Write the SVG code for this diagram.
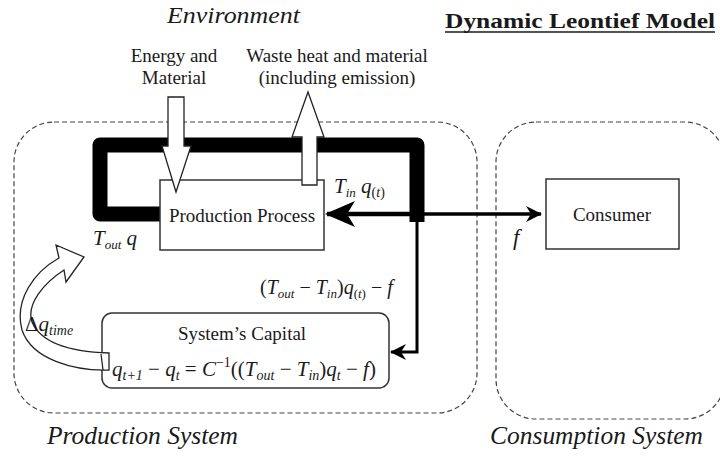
<svg xmlns="http://www.w3.org/2000/svg" width="720" height="457" viewBox="0 0 720 457">
<style>
.t{font-family:'Liberation Serif','DejaVu Serif',serif;fill:#1a1a1a}
.i{font-style:italic}
.m{font-family:'Liberation Serif','DejaVu Serif',serif;font-style:italic;fill:#1a1a1a}
.dash{fill:none;stroke:#444;stroke-width:1.2;stroke-dasharray:5 3}
.box{fill:#fff;stroke:#333;stroke-width:1.5}
.blk{fill:#fff;stroke:#222;stroke-width:1.3}
</style>
<defs>
<marker id="ah" viewBox="0 0 30 26" refX="28" refY="13" markerWidth="30" markerHeight="26" markerUnits="userSpaceOnUse" orient="auto">
<path d="M0,0 L30,13 L0,26 L8,13 Z" fill="#000"/>
</marker>
<marker id="ahs" viewBox="0 0 16 16" refX="15" refY="8" markerWidth="16" markerHeight="16" markerUnits="userSpaceOnUse" orient="auto">
<path d="M0,0 L16,8 L0,16 L5,8 Z" fill="#000"/>
</marker>
</defs>
<rect width="720" height="457" fill="#fff"/>

<g id="production-system">
<rect class="dash" x="14" y="122" width="463" height="291" rx="40" ry="40"/>
<text class="t i" x="47" y="444" font-size="25" textLength="191" lengthAdjust="spacingAndGlyphs">Production System</text>
</g>
<g id="consumption-system">
<rect class="dash" x="496" y="122" width="229" height="297" rx="40" ry="40"/>
<text class="t i" x="490" y="444" font-size="25" textLength="213" lengthAdjust="spacingAndGlyphs">Consumption System</text>
</g>

<text class="t i" x="167" y="23" font-size="24" textLength="133" lengthAdjust="spacingAndGlyphs">Environment</text>
<text class="t" x="445" y="28" font-size="20" font-weight="bold" textLength="270" lengthAdjust="spacingAndGlyphs">Dynamic Leontief Model</text>
<line x1="445" y1="32" x2="715" y2="32" stroke="#1a1a1a" stroke-width="1.5"/>

<g id="connectors">
<path d="M160,214 L100,214 L100,145 L417,145 L417,222" fill="none" stroke="#000" stroke-width="15" stroke-linejoin="round"/>
<line x1="417" y1="214" x2="327" y2="214" stroke="#000" stroke-width="4.5" marker-end="url(#ah)"/>
<line x1="417" y1="214" x2="541" y2="214" stroke="#000" stroke-width="3.5" marker-end="url(#ahs)"/>
<polyline points="417,222 417,352 391,352" fill="none" stroke="#000" stroke-width="3" marker-end="url(#ahs)"/>
</g>

<g id="production-process">
<rect class="box" x="160" y="180" width="164" height="70"/>
<text class="t" x="242" y="222" font-size="19" text-anchor="middle">Production Process</text>
</g>

<g id="energy-input">
<polygon class="blk" points="168,97 184,97 184,146 191,146 176,192 162,146 168,146"/>
<text class="t" x="174" y="62" font-size="19" text-anchor="middle">Energy and</text>
<text class="t" x="174" y="84" font-size="19" text-anchor="middle">Material</text>
</g>
<g id="waste-output">
<polygon class="blk" points="302,185 317,185 317,137 324,137 308,92 292,137 302,137"/>
<text class="t" x="337" y="62" font-size="19" text-anchor="middle">Waste heat and material</text>
<text class="t" x="337" y="84" font-size="19" text-anchor="middle">(including emission)</text>
</g>

<g id="consumer">
<rect class="box" x="546" y="179" width="133" height="70"/>
<text class="t" x="612" y="221" font-size="19" text-anchor="middle">Consumer</text>
</g>

<g id="systems-capital">
<rect class="box" x="102" y="313" width="287" height="75" rx="10" ry="10"/>
<text class="t" x="242" y="340" font-size="19" text-anchor="middle">System’s Capital</text>
<text class="m" x="112" y="376" font-size="21">q<tspan font-size="14" dy="4">t+1</tspan><tspan dy="-4" font-style="normal"> − </tspan><tspan>q</tspan><tspan font-size="14" dy="4">t</tspan><tspan dy="-4" font-style="normal"> = </tspan><tspan>C</tspan><tspan font-size="14" dy="-9" font-style="normal">−1</tspan><tspan dy="9" font-style="normal">((</tspan><tspan>T</tspan><tspan font-size="14" dy="4">out</tspan><tspan dy="-4" font-style="normal"> − </tspan><tspan>T</tspan><tspan font-size="14" dy="4">in</tspan><tspan dy="-4" font-style="normal">)</tspan><tspan>q</tspan><tspan font-size="14" dy="4">t</tspan><tspan dy="-4" font-style="normal"> − </tspan><tspan>f</tspan><tspan font-style="normal">)</tspan></text>
</g>

<g id="delta-arrow">
<path class="blk" d="M109,353 C75,352 42,345 32,322 C26,304 44,283 64,270 L66,282 L84,257 L56,245 L59,258 C34,272 14,300 22,330 C32,360 75,371 109,370 Z"/>
<line x1="101" y1="354" x2="103" y2="370" stroke="#222" stroke-width="1.2"/>
</g>

<g id="labels">
<text class="m" x="334" y="193" font-size="21">T<tspan font-size="13" dy="4">in</tspan><tspan dy="-4"> q</tspan><tspan font-size="14" dy="4" font-style="normal">(</tspan><tspan font-size="14">t</tspan><tspan font-size="14" font-style="normal">)</tspan></text>
<text class="m" x="93" y="245" font-size="21">T<tspan font-size="13" dy="4">out</tspan><tspan dy="-4"> q</tspan></text>
<text class="m" x="260" y="294" font-size="20"><tspan font-style="normal">(</tspan>T<tspan font-size="13" dy="4">out</tspan><tspan dy="-4" font-style="normal"> − </tspan><tspan>T</tspan><tspan font-size="13" dy="4">in</tspan><tspan dy="-4" font-style="normal">)</tspan><tspan>q</tspan><tspan font-size="13" dy="4" font-style="normal">(</tspan><tspan font-size="13">t</tspan><tspan font-size="13" font-style="normal">)</tspan><tspan dy="-4" font-style="normal"> − </tspan><tspan>f</tspan></text>
<text class="m" x="25" y="331" font-size="21"><tspan font-style="normal">Δ</tspan>q<tspan font-size="14" dy="4">time</tspan></text>
<text class="m" x="513" y="245" font-size="23">f</text>
</g>
</svg>
